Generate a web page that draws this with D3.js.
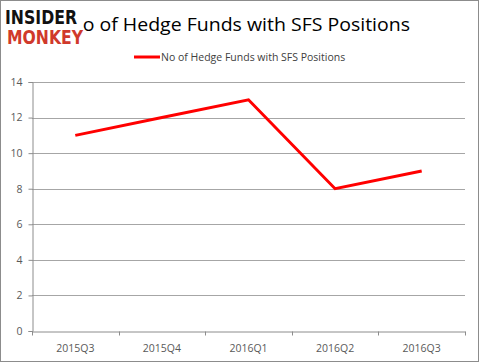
<!DOCTYPE html>
<html>
<head>
<meta charset="utf-8">
<script src="https://cdn.jsdelivr.net/npm/d3@7"></script>
<style>
  body { margin: 0; background: #fff; }
  svg { display: block; }
</style>
</head>
<body>
<div id="chart"></div>
<script>
const quarters = ['2015Q3', '2015Q4', '2016Q1', '2016Q2', '2016Q3'];
const funds = [11, 12, 13, 8, 9];
const yTicks = [0, 2, 4, 6, 8, 10, 12, 14];
const seriesName = 'No of Hedge Funds with SFS Positions';

const width = 479;
const height = 362;
const margin = {top: 82, right: 14, bottom: 31, left: 32};

const svg = d3.select('#chart')
  .append('svg')
  .attr('width', width)
  .attr('height', height);

svg.append('rect')
  .attr('x', 0.5).attr('y', 0.5)
  .attr('width', width - 1).attr('height', height - 1)
  .attr('fill', '#fff')
  .attr('stroke', '#8c8c8c');

const x = d3.scaleBand()
  .domain(quarters)
  .range([margin.left, width - margin.right]);

const y = d3.scaleLinear()
  .domain([0, 14])
  .range([height - margin.bottom, margin.top]);

// gridlines
svg.append('g')
  .selectAll('line')
  .data(yTicks.filter(d => d > 0))
  .enter()
  .append('line')
  .attr('x1', margin.left)
  .attr('x2', width - margin.right)
  .attr('y1', d => Math.round(y(d)) + 0.5)
  .attr('y2', d => Math.round(y(d)) + 0.5)
  .attr('stroke', '#a6a6a6');

// y axis
const yAxis = svg.append('g')
  .attr('transform', 'translate(' + (margin.left + 0.5) + ',0)')
  .call(d3.axisLeft(y).tickValues(yTicks).tickSize(4).tickPadding(6));

// x axis
const xAxis = svg.append('g')
  .attr('transform', 'translate(0,' + (Math.round(y(0)) + 0.5) + ')')
  .call(d3.axisBottom(x).tickSize(0).tickPadding(13));

// x ticks at category boundaries
xAxis.selectAll('.bound')
  .data(quarters.map(q => x(q)).concat([x.range()[1]]))
  .enter()
  .append('line')
  .attr('class', 'bound')
  .attr('x1', d => Math.round(d) + 0.5)
  .attr('x2', d => Math.round(d) + 0.5)
  .attr('y1', 0)
  .attr('y2', 4)
  .attr('stroke', '#8c8c8c');

[yAxis, xAxis].forEach(a => {
  a.select('.domain').attr('stroke', '#8c8c8c');
  a.selectAll('.tick line').attr('stroke', '#8c8c8c');
  a.selectAll('text')
    .attr('fill', '#595959')
    .style('font-family', 'Open Sans, sans-serif')
    .style('font-size', '10.5px');
});

// series line
const line = d3.line()
  .x(d => x(d.q) + x.bandwidth() / 2)
  .y(d => y(d.v));

svg.append('path')
  .datum(quarters.map((q, i) => ({q: q, v: funds[i]})))
  .attr('d', line)
  .attr('fill', 'none')
  .attr('stroke', '#ff0000')
  .attr('stroke-width', 3)
  .attr('stroke-linejoin', 'miter');

// title
svg.append('text')
  .attr('x', 68)
  .attr('y', 31)
  .attr('fill', '#000')
  .style('font-family', 'Open Sans, sans-serif')
  .style('font-size', '19px')
  .attr('textLength', 342)
  .attr('lengthAdjust', 'spacingAndGlyphs')
  .text(seriesName);

// legend
svg.append('line')
  .attr('x1', 134).attr('x2', 160)
  .attr('y1', 57).attr('y2', 57)
  .attr('stroke', '#ff0000')
  .attr('stroke-width', 3);
svg.append('text')
  .attr('x', 161)
  .attr('y', 61)
  .attr('fill', '#404040')
  .style('font-family', 'Open Sans, sans-serif')
  .style('font-size', '10.5px')
  .text(seriesName);

// logo
const logo = svg.append('g');
logo.append('rect')
  .attr('x', 3).attr('y', 6).attr('width', 80).attr('height', 40)
  .attr('fill', '#fff');
logo.append('text')
  .attr('x', 5).attr('y', 24)
  .attr('fill', '#111')
  .style('font-family', 'DejaVu Sans, sans-serif')
  .style('font-weight', 'bold')
  .style('font-size', '19px')
  .attr('textLength', 72)
  .attr('lengthAdjust', 'spacingAndGlyphs')
  .text('INSIDER');
logo.append('text')
  .attr('x', 7).attr('y', 44)
  .attr('fill', '#d0392b')
  .style('font-family', 'DejaVu Sans, sans-serif')
  .style('font-weight', 'bold')
  .style('font-size', '19px')
  .attr('textLength', 76)
  .attr('lengthAdjust', 'spacingAndGlyphs')
  .text('MONKEY');
</script>
</body>
</html>
